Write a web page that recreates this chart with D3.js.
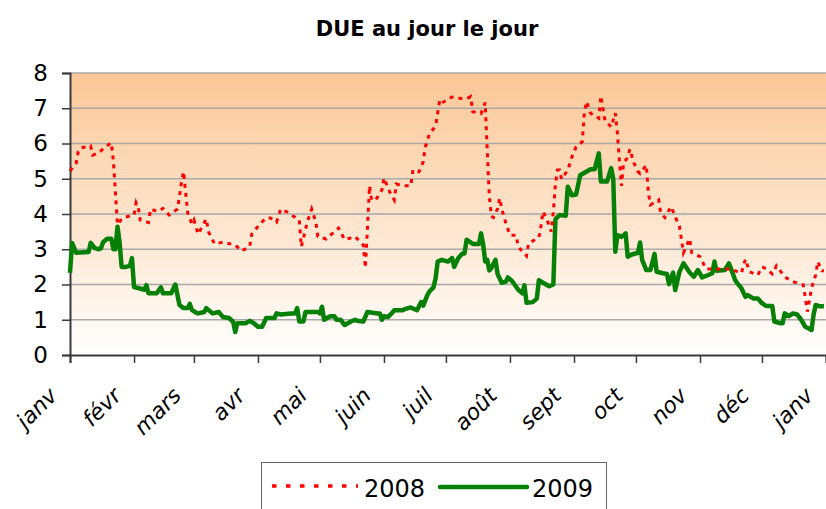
<!DOCTYPE html>
<html>
<head>
<meta charset="utf-8">
<script src="https://cdn.jsdelivr.net/npm/d3@7"></script>
<style>
  body { margin: 0; background: #fff; }
  svg text { font-family: "Comic Sans MS", "DejaVu Sans", sans-serif; fill: #000; }
</style>
</head>
<body>
<div id="chart"></div>
<script>
// month labels (one per month start, last one = janv of next year)
var monthLabels = ["janv", "févr", "mars", "avr", "mai", "juin", "juil", "août", "sept", "oct", "nov", "déc", "janv"];
var yTicks = [0, 1, 2, 3, 4, 5, 6, 7, 8];
var seriesNames = ["2008", "2009"];

// day of year (0 = 1 janv) and value
var days2008 = [0,3,4,5,10,11,14,17,20,21,22,23,25,26,31,32,33,34,38,39,41,43,45,48,52,53,54,55,56,57,59,60,62,66,67,70,74,80,83,87,88,92,95,97,100,102,105,108,111,112,115,117,119,120,124,130,133,138,142,143,144,145,146,148,151,152,155,157,158,161,165,166,169,171,172,174,177,178,179,180,185,190,192,194,195,199,201,202,203,204,205,207,208,209,211,213,216,217,221,222,227,228,229,231,233,234,235,236,237,238,241,243,245,248,249,250,252,256,257,259,262,264,265,266,267,268,270,271,273,275,276,279,280,281,285,286,288,291,293,295,296,297,299,300,301,305,307,308,312,320,325,327,329,333,335,337,340,342,346,347,350,355,356,357,359,361,362,364,365];
var vals2008 = [5.22,5.45,5.77,5.87,5.93,5.67,5.74,5.9,6.02,5.5,4.6,3.7,3.86,3.9,3.97,4.32,4.2,3.83,3.76,4.14,4.1,4.08,4.16,3.97,4.14,4.5,4.92,5.2,4.6,4.03,3.72,3.83,3.43,3.86,3.5,3.15,3.2,3.12,2.95,3.07,3.43,3.72,3.89,3.89,3.77,4.14,4.06,3.94,3.83,3.07,3.8,4.14,3.77,3.36,3.29,3.6,3.27,3.36,3.12,2.47,3.6,4.8,4.4,4.4,4.68,5.02,4.6,4.4,4.85,4.8,4.8,5.25,5.2,5.48,5.9,6.27,6.5,6.86,7.23,7.15,7.32,7.27,7.27,7.33,6.9,6.85,7.16,5.8,4.5,3.94,3.9,4.15,4.45,4.15,3.74,3.4,3.4,3.07,2.81,3.17,3.33,3.66,4.07,3.83,3.5,4.07,4.85,5.25,5.25,4.99,5.25,5.62,5.9,6.05,6.86,7.19,6.86,6.72,7.35,6.65,6.47,6.86,6.3,5.5,4.8,5.46,5.6,5.84,5.45,5.2,5.15,5.39,4.6,4.26,4.4,4.02,3.9,4.21,3.92,3.66,3.29,2.9,3.17,3.3,2.9,2.79,2.55,2.44,2.44,2.44,2.32,2.72,2.36,2.27,2.5,2.45,2.3,2.53,2.22,2.18,2.08,1.99,1.62,1.23,1.9,2.27,2.65,2.39,2.39];

var days2009 = [0,1,3,9,10,12,14,15,16,18,20,21,22,23,24,25,27,29,30,31,33,36,37,38,42,44,45,49,51,53,55,57,58,59,61,62,65,66,69,72,74,77,79,80,81,85,87,89,91,93,95,99,100,102,107,109,110,111,113,114,120,121,122,123,126,128,129,131,133,136,138,139,142,144,149,150,151,152,154,156,157,161,162,165,166,168,170,171,173,174,176,177,178,180,183,185,186,188,190,191,192,195,198,199,200,201,202,203,204,206,207,209,211,212,214,217,219,220,221,224,226,227,229,232,234,235,237,240,241,243,245,247,252,254,256,257,260,262,263,264,265,267,269,270,272,275,276,277,279,281,283,284,287,289,290,292,293,295,297,300,302,304,306,309,311,312,313,317,319,320,322,323,325,327,328,331,333,335,337,340,341,344,345,346,348,350,352,354,356,359,360,361,363,365];
var vals2009 = [2.33,3.18,2.9,2.92,3.18,3.03,3.0,3.03,3.2,3.3,3.3,3.0,3.0,3.64,3.2,2.5,2.5,2.53,2.75,1.93,1.9,1.85,1.98,1.75,1.75,1.92,1.75,1.75,2.0,1.42,1.33,1.33,1.45,1.28,1.2,1.18,1.22,1.33,1.18,1.22,1.08,1.05,0.94,0.65,0.9,0.9,0.97,0.9,0.8,0.8,1.05,1.05,1.18,1.15,1.18,1.18,1.33,0.95,0.95,1.22,1.22,1.18,1.37,1.0,1.1,1.1,1.0,1.0,0.85,0.95,1.0,0.97,0.95,1.22,1.18,1.18,1.0,1.1,1.08,1.2,1.27,1.27,1.3,1.35,1.32,1.27,1.5,1.4,1.7,1.8,1.92,2.18,2.65,2.7,2.65,2.75,2.5,2.75,2.88,2.88,3.27,3.15,3.15,3.45,3.15,2.65,2.7,2.4,2.47,2.7,2.3,2.05,2.08,2.2,2.1,1.85,1.75,1.98,1.48,1.5,1.6,2.12,2.05,1.95,2.0,3.85,3.97,3.95,4.77,4.53,4.55,5.1,5.27,5.27,5.72,4.92,4.92,5.3,5.0,2.93,3.4,3.35,3.45,2.79,2.85,2.9,3.19,2.7,2.41,2.41,2.87,2.36,2.32,2.3,2.01,2.34,1.84,2.35,2.6,2.34,2.22,2.41,2.2,2.27,2.32,2.65,2.39,2.41,2.6,2.45,2.13,2.04,1.9,1.65,1.7,1.6,1.6,1.47,1.39,1.39,0.95,0.9,0.9,1.18,1.1,1.18,1.15,1.0,0.8,0.71,1.15,1.42,1.38,1.38];

var width = 826, height = 509;
var plotLeft = 70, plotRight = 826, plotTop = 73, plotBottom = 355;

var svg = d3.select("#chart").append("svg")
    .attr("width", width)
    .attr("height", height);

var start = new Date(2008, 0, 1);
var x = d3.scaleTime()
    .domain([start, new Date(2009, 0, 1)])
    .range([plotLeft, plotRight]);
var y = d3.scaleLinear()
    .domain([0, 8])
    .range([plotBottom, plotTop]);

function toDate(d) { return d3.timeDay.offset(start, d); }

/* background gradient */
var grad = svg.append("defs").append("linearGradient")
    .attr("id", "bg")
    .attr("x1", 0).attr("y1", 0).attr("x2", 0).attr("y2", 1);
grad.append("stop").attr("offset", "0%").attr("stop-color", "#fbc795");
grad.append("stop").attr("offset", "100%").attr("stop-color", "#ffffff");

svg.append("rect")
    .attr("x", plotLeft).attr("y", plotTop)
    .attr("width", plotRight - plotLeft).attr("height", plotBottom - plotTop)
    .attr("fill", "url(#bg)");

// grid lines
svg.append("g").selectAll("line")
    .data(yTicks.filter(function(t) { return t > 0; }))
    .enter().append("line")
    .attr("x1", plotLeft).attr("x2", plotRight)
    .attr("y1", function(d) { return y(d); })
    .attr("y2", function(d) { return y(d); })
    .attr("stroke", "#a9a9a9")
    .attr("stroke-width", 1.6);

// y axis
var yAxis = d3.axisLeft(y).tickValues(yTicks).tickSize(8).tickPadding(14);
var gy = svg.append("g").attr("transform", "translate(" + plotLeft + ",0)").call(yAxis);
gy.select(".domain").attr("stroke", "#3a3a3a").attr("stroke-width", 2);
gy.selectAll(".tick line").attr("stroke", "#3a3a3a").attr("stroke-width", 1.5);
gy.selectAll("text")
    .style("font-size", "23px")
    .style("font-family", "'Comic Sans MS', 'DejaVu Sans', sans-serif");

// x axis with month starts
var monthTicks = d3.timeMonth.range(start, new Date(2009, 0, 2));
var xAxis = d3.axisBottom(x).tickValues(monthTicks).tickSize(8)
    .tickFormat(function(d, i) { return monthLabels[i]; });
var gx = svg.append("g").attr("transform", "translate(0," + plotBottom + ")").call(xAxis);
gx.select(".domain").attr("stroke", "#3a3a3a").attr("stroke-width", 2);
gx.selectAll(".tick line").attr("stroke", "#3a3a3a").attr("stroke-width", 1.5);
gx.selectAll("text")
    .style("font-size", "22px")
    .style("font-style", "italic")
    .style("font-family", "'Comic Sans MS', 'DejaVu Sans', sans-serif")
    .attr("text-anchor", "end")
    .attr("y", 0).attr("dy", 0)
    .attr("transform", "translate(-12,42) rotate(-45)");

// lines
var line = d3.line()
    .x(function(d) { return x(toDate(d[0])); })
    .y(function(d) { return y(d[1]); });

svg.append("path")
    .datum(d3.zip(days2009, vals2009))
    .attr("d", line)
    .attr("fill", "none")
    .attr("stroke", "#078007")
    .attr("stroke-width", 4.5)
    .attr("stroke-linejoin", "round");

svg.append("path")
    .datum(d3.zip(days2008, vals2008))
    .attr("d", line)
    .attr("fill", "none")
    .attr("stroke", "#ff0000")
    .attr("stroke-width", 3)
    .attr("stroke-dasharray", "4,5");

// title
svg.append("text")
    .attr("x", 427).attr("y", 36)
    .attr("text-anchor", "middle")
    .style("font-size", "21px")
    .style("font-weight", "bold")
    .text("DUE au jour le jour");

/* legend */
var lg = svg.append("g");
lg.append("rect")
    .attr("x", 261.5).attr("y", 462.5)
    .attr("width", 345).attr("height", 60)
    .attr("fill", "#fff")
    .attr("stroke", "#666")
    .attr("stroke-width", 1);
lg.append("line")
    .attr("x1", 272).attr("x2", 358).attr("y1", 486).attr("y2", 486)
    .attr("stroke", "#ff0000").attr("stroke-width", 3.5)
    .attr("stroke-dasharray", "4.5,9.5");
lg.append("text")
    .attr("x", 364).attr("y", 497)
    .style("font-size", "24px")
    .style("font-family", "'DejaVu Sans', sans-serif")
    .text(seriesNames[0]);
lg.append("line")
    .attr("x1", 440).attr("x2", 527).attr("y1", 487).attr("y2", 487)
    .attr("stroke", "#078007").attr("stroke-width", 4.5)
    .attr("stroke-linecap", "round");
lg.append("text")
    .attr("x", 532).attr("y", 497)
    .style("font-size", "24px")
    .style("font-family", "'DejaVu Sans', sans-serif")
    .text(seriesNames[1]);
</script>
</body>
</html>
